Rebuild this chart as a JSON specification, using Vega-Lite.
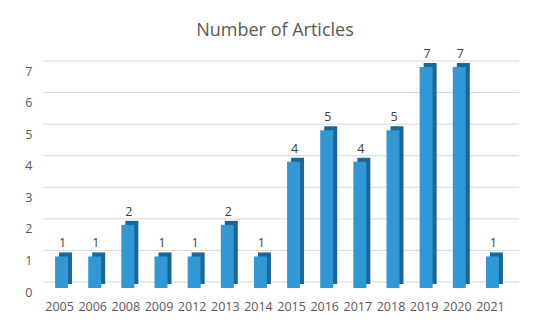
{
  "$schema": "https://vega.github.io/schema/vega-lite/v6.json",
  "autosize": {"type": "none"},
  "width": 464,
  "height": 221,
  "padding": {"left": 43, "top": 67, "right": 43, "bottom": 44},
  "background": "white",
  "title": {
    "text": "Number of Articles",
    "font": "Open Sans",
    "fontSize": 18,
    "fontWeight": "normal",
    "color": "#595959",
    "anchor": "middle",
    "offset": 8
  },
  "config": {
    "view": {"stroke": null},
    "axisY": {
      "title": null, "grid": false, "domain": false, "ticks": false,
      "values": [0, 1, 2, 3, 4, 5, 6, 7],
      "labelFont": "Open Sans", "labelFontSize": 12.5, "labelColor": "#595959",
      "labelPadding": 11, "labelOffset": 4
    }
  },
  "layer": [
    {
      "data": {"values": [{"g": 0}, {"g": 1}, {"g": 2}, {"g": 3}, {"g": 4}, {"g": 5}, {"g": 6}, {"g": 7}]},
      "mark": {"type": "rule", "color": "#d9d9d9", "strokeWidth": 1, "xOffset": 12, "yOffset": -6},
      "encoding": {
        "y": {"field": "g", "type": "quantitative", "scale": {"domain": [0, 7]}, "title": null}
      }
    },
    {
      "data": {"values": [
        {"year": "2005", "count": 1}, {"year": "2006", "count": 1}, {"year": "2008", "count": 2},
        {"year": "2009", "count": 1}, {"year": "2012", "count": 1}, {"year": "2013", "count": 2},
        {"year": "2014", "count": 1}, {"year": "2015", "count": 4}, {"year": "2016", "count": 5},
        {"year": "2017", "count": 4}, {"year": "2018", "count": 5}, {"year": "2019", "count": 7},
        {"year": "2020", "count": 7}, {"year": "2021", "count": 1}
      ]},
      "encoding": {
        "x": {
          "field": "year", "type": "nominal", "sort": null,
          "scale": {"paddingInner": 0.6, "paddingOuter": 0.3},
          "axis": {
            "title": null, "labelAngle": 0, "domain": false, "ticks": false,
            "labelFont": "Open Sans", "labelFontSize": 12.5, "labelColor": "#595959",
            "labelPadding": 12
          }
        },
        "y": {
          "field": "count", "type": "quantitative",
          "scale": {"domain": [0, 7]},
          "title": null
        }
      },
      "layer": [
        {
          "mark": {"type": "bar", "color": "#1d6593", "width": 13, "xOffset": 6, "yOffset": -4, "cornerRadius": 0}
        },
        {
          "mark": {"type": "bar", "color": "#2f98d5", "width": 13, "xOffset": 2}
        },
        {
          "mark": {"type": "text", "dy": -13, "dx": 3, "font": "Open Sans", "fontSize": 12.5, "color": "#404040"},
          "encoding": {"text": {"field": "count", "type": "quantitative"}}
        }
      ]
    }
  ]
}
